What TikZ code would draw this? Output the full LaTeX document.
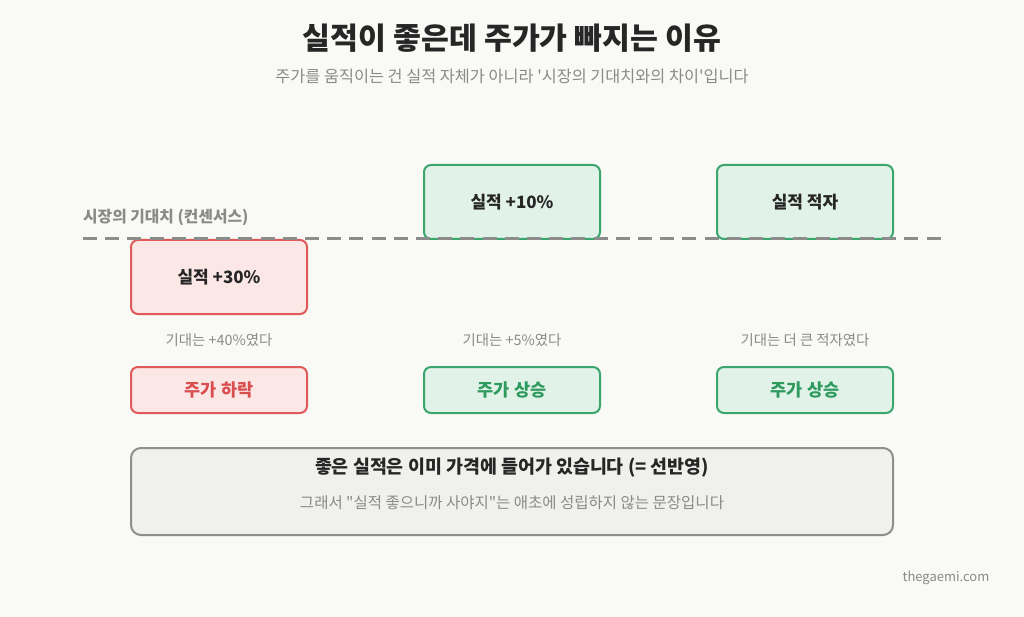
\documentclass[tikz,border=0pt]{standalone}
\usepackage{fontspec}
\setmainfont{Noto Sans CJK KR}[Ligatures=TeXOff]
\usetikzlibrary{positioning}
\definecolor{bg}{HTML}{F9F9F6}
\definecolor{ttl}{HTML}{262626}
\definecolor{sub}{HTML}{8A8A8A}
\definecolor{dashc}{HTML}{8C8C8C}
\definecolor{redf}{HTML}{FCE7E7}
\definecolor{redd}{HTML}{E05A5A}
\definecolor{redt}{HTML}{D94F4F}
\definecolor{grnf}{HTML}{E1F2E9}
\definecolor{grnd}{HTML}{3AA66E}
\definecolor{grnt}{HTML}{2E9A5E}
\definecolor{sumf}{HTML}{F0F0ED}
\definecolor{sumd}{HTML}{8E8E8E}
\tikzset{
  box/.style={rounded corners=7pt, line width=2pt, minimum width=176pt, inner sep=0pt, font=\fontsize{17}{20}\selectfont\bfseries, text=ttl},
  redbox/.style={box, draw=redd, fill=redf},
  grnbox/.style={box, draw=grnd, fill=grnf},
  note/.style={font=\fontsize{14.4}{17}\selectfont, text=sub},
  result/.style={font=\fontsize{17.5}{20}\selectfont\bfseries},
}
\begin{document}
\begin{tikzpicture}[x=1pt,y=-1pt]
\fill[bg] (0,0) rectangle (1024,617);
\useasboundingbox (0,0) rectangle (1024,617);
\node[font=\fontsize{30.3}{36}\selectfont\bfseries, text=ttl] (title) at (512,38) {실적이 좋은데 주가가 빠지는 이유};
\node[font=\fontsize{16.3}{19}\selectfont, text=sub] (subtitle) at (512,76) {주가를 움직이는 건 실적 자체가 아니라 '시장의 기대치와의 차이'입니다};
\node[font=\fontsize{15.8}{19}\selectfont\bfseries, text=sub, anchor=west, inner sep=0pt] (cons) at (83,217) {시장의 기대치 (컨센서스)};
\coordinate (dl) at (83,239);
\coordinate (dr) at (941,239);
% boxes
\node[redbox, minimum height=74pt] (b1) at (219,277) {실적 +30\%};
\node[grnbox, minimum height=74pt] (b2) at (512,202) {실적 +10\%};
\node[grnbox, minimum height=74pt] (b3) at (805,202) {실적 적자};
\draw[dashc, line width=3pt, dash pattern=on 14pt off 8.2pt] (dl) -- (dr);
\node[note] (n1) at (219,340) {기대는 +40\%였다};
\node[note] (n2) at (512,340) {기대는 +5\%였다};
\node[note] (n3) at (805,340) {기대는 더 큰 적자였다};
\node[redbox, minimum height=46pt, text=redt, result] (r1) at (219,390) {주가 하락};
\node[grnbox, minimum height=46pt, text=grnt, result] (r2) at (512,390) {주가 상승};
\node[grnbox, minimum height=46pt, text=grnt, result] (r3) at (805,390) {주가 상승};
\node[draw=sumd, fill=sumf, line width=2pt, rounded corners=10pt, minimum width=762pt, minimum height=87pt] (sum) at (512,491.5) {};
\node[font=\fontsize{18.4}{22}\selectfont\bfseries, text=ttl] (sumt) at (512,468) {좋은 실적은 이미 가격에 들어가 있습니다 (= 선반영)};
\node[font=\fontsize{15.5}{18}\selectfont, text=sub] (sums) at (512,503) {그래서 "실적 좋으니까 사야지"는 애초에 성립하지 않는 문장입니다};
\node[font=\fontsize{13}{16}\selectfont, text=sub] (site) at (946,578) {thegaemi.com};
\end{tikzpicture}
\end{document}
